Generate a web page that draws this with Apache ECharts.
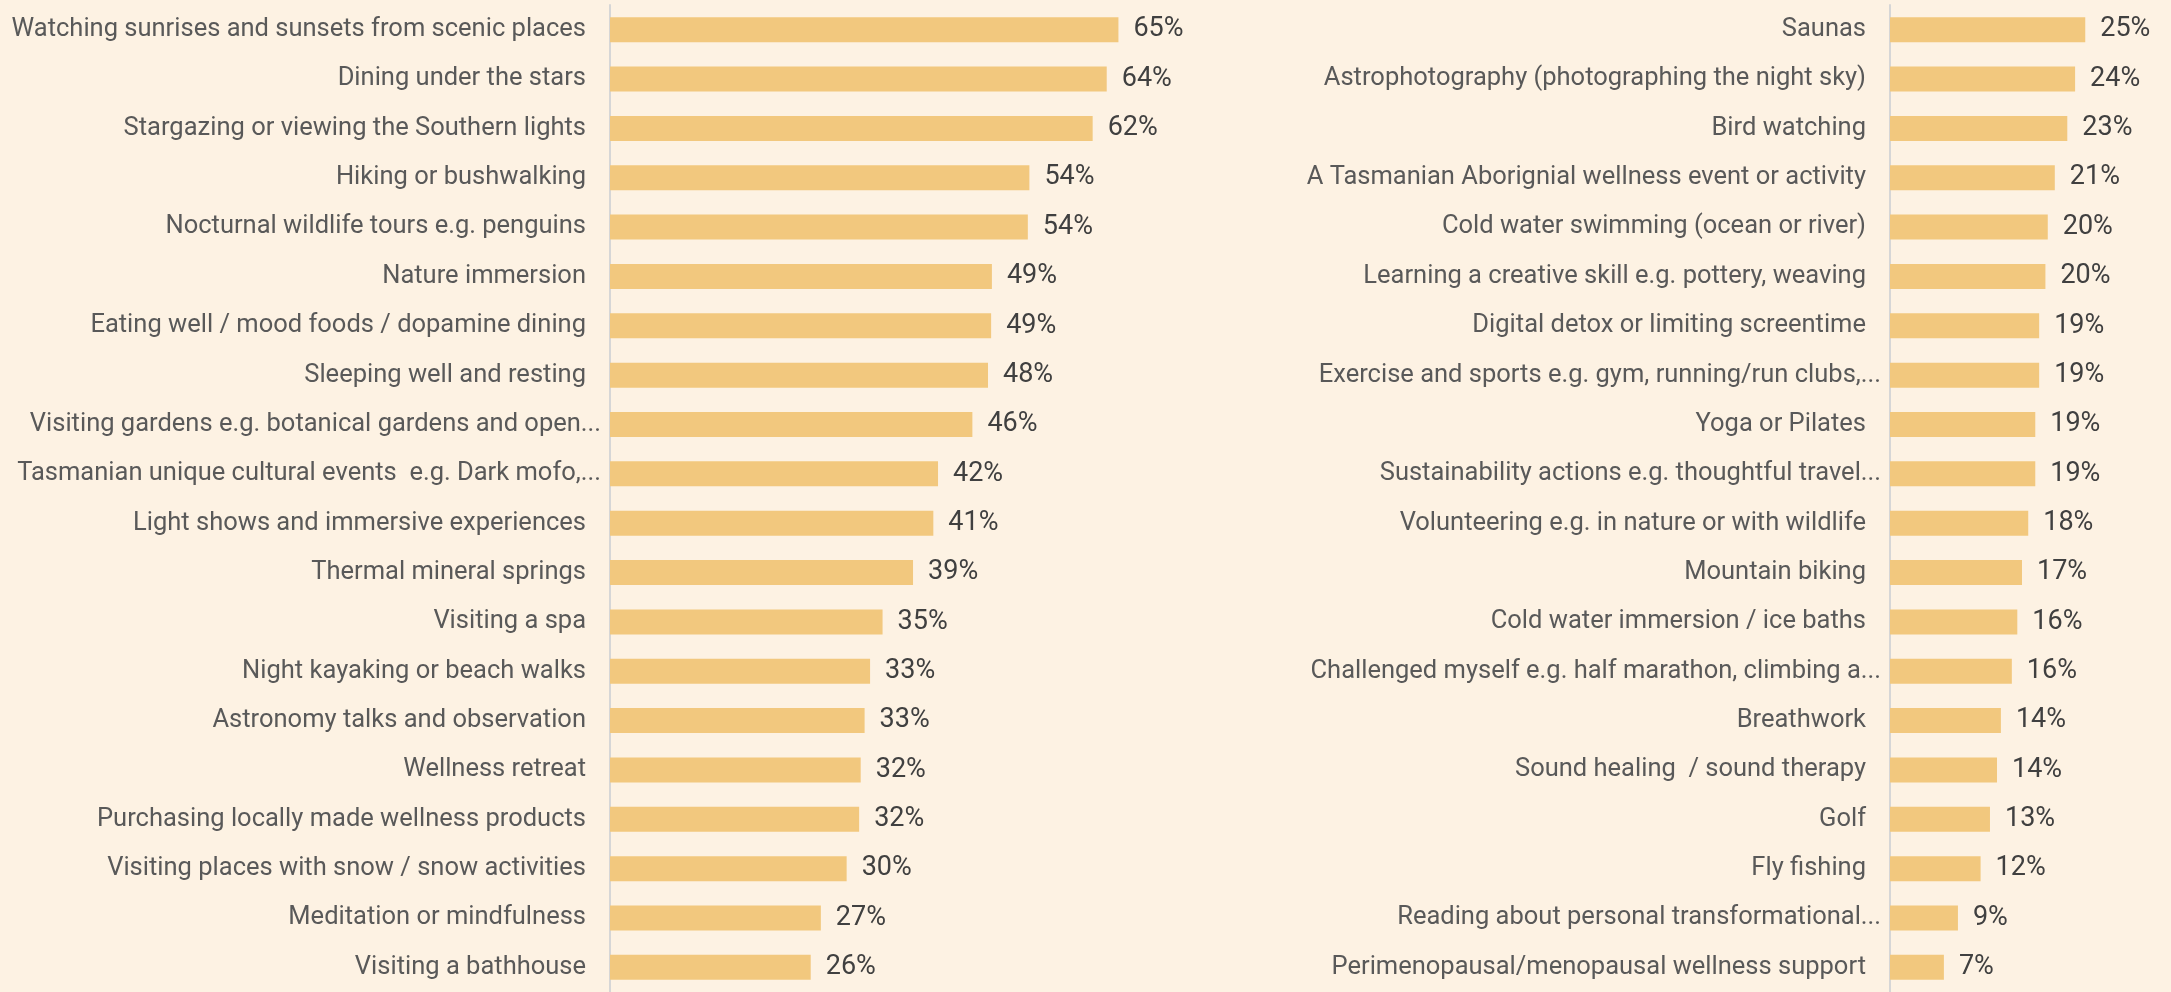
<!DOCTYPE html>
<html>
<head>
<meta charset="utf-8">
<title>Wellness activities</title>
<script src="https://cdn.jsdelivr.net/npm/echarts@6/dist/echarts.min.js"></script>
<style>
    html, body { margin: 0; padding: 0; background: #FDF2E3; }
    #chart { width: 2171px; height: 992px; }
</style>
</head>
<body>
<div id="chart"></div>
<script>
var leftLabels = [
    'Watching sunrises and sunsets from scenic places',
    'Dining under the stars',
    'Stargazing or viewing the Southern lights',
    'Hiking or bushwalking',
    'Nocturnal wildlife tours e.g. penguins',
    'Nature immersion',
    'Eating well / mood foods / dopamine dining',
    'Sleeping well and resting',
    'Visiting gardens e.g. botanical gardens and open...',
    'Tasmanian unique cultural events  e.g. Dark mofo,...',
    'Light shows and immersive experiences',
    'Thermal mineral springs',
    'Visiting a spa',
    'Night kayaking or beach walks',
    'Astronomy talks and observation',
    'Wellness retreat',
    'Purchasing locally made wellness products',
    'Visiting places with snow / snow activities',
    'Meditation or mindfulness',
    'Visiting a bathhouse'
];
var leftValues = [65.1, 63.6, 61.8, 53.7, 53.5, 48.9, 48.8, 48.4, 46.4, 42.0,
                  41.4, 38.8, 34.9, 33.3, 32.6, 32.1, 31.9, 30.3, 27.0, 25.7];

var rightLabels = [
    'Saunas',
    'Astrophotography (photographing the night sky)',
    'Bird watching',
    'A Tasmanian Aborignial wellness event or activity',
    'Cold water swimming (ocean or river)',
    'Learning a creative skill e.g. pottery, weaving',
    'Digital detox or limiting screentime',
    'Exercise and sports e.g. gym, running/run clubs,...',
    'Yoga or Pilates',
    'Sustainability actions e.g. thoughtful travel...',
    'Volunteering e.g. in nature or with wildlife',
    'Mountain biking',
    'Cold water immersion / ice baths',
    'Challenged myself e.g. half marathon, climbing a...',
    'Breathwork',
    'Sound healing  / sound therapy',
    'Golf',
    'Fly fishing',
    'Reading about personal transformational...',
    'Perimenopausal/menopausal wellness support'
];
var rightValues = [25.0, 23.7, 22.7, 21.1, 20.2, 19.9, 19.1, 19.1, 18.6, 18.6,
                   17.7, 16.9, 16.3, 15.6, 14.2, 13.7, 12.8, 11.6, 8.7, 6.9];

var barColor = '#F2C87E';
var pxPerPct = 7.81;

var dom = document.getElementById('chart');
var myChart = echarts.init(dom);

function catAxis(idx, labels) {
    return {
        type: 'category',
        gridIndex: idx,
        inverse: true,
        data: labels,
        axisTick: { show: false },
        axisLine: { show: true, lineStyle: { color: '#D6D6D6', width: 2 } },
        axisLabel: {
            margin: 9,
            fontFamily: 'Roboto',
            fontSize: 25.5,
            color: '#595959',
            formatter: function (v) {
                return /\.\.\.$/.test(v) ? '{t|' + v + '}' : '{n|' + v + '}';
            },
            rich: {
                n: { fontFamily: 'Roboto', fontSize: 25.5, color: '#595959', padding: [0, 15, 0, 0] },
                t: { fontFamily: 'Roboto', fontSize: 25.5, color: '#595959' }
            }
        }
    };
}

function valAxis(idx, max) {
    return {
        type: 'value',
        gridIndex: idx,
        min: 0,
        max: max,
        show: false,
        splitLine: { show: false }
    };
}

function barSeries(idx, values) {
    return {
        type: 'bar',
        xAxisIndex: idx,
        yAxisIndex: idx,
        data: values,
        barWidth: 25,
        itemStyle: { color: barColor },
        label: {
            show: true,
            position: 'right',
            distance: 15,
            fontFamily: 'Roboto',
            fontSize: 27,
            color: '#404040',
            formatter: function (p) { return Math.round(p.value) + '%'; }
        },
        silent: true,
        animation: false
    };
}

option = {
    backgroundColor: '#FDF2E3',
    grid: [
        { left: 610, top: 5, width: 80 * pxPerPct, height: 994 },
        { left: 1890, top: 5, width: 35 * pxPerPct, height: 994 }
    ],
    xAxis: [valAxis(0, 80), valAxis(1, 35)],
    yAxis: [catAxis(0, leftLabels), catAxis(1, rightLabels)],
    series: [barSeries(0, leftValues), barSeries(1, rightValues)]
};

if (option && typeof option === "object") {
    myChart.setOption(option, true);
}
</script>
</body>
</html>
